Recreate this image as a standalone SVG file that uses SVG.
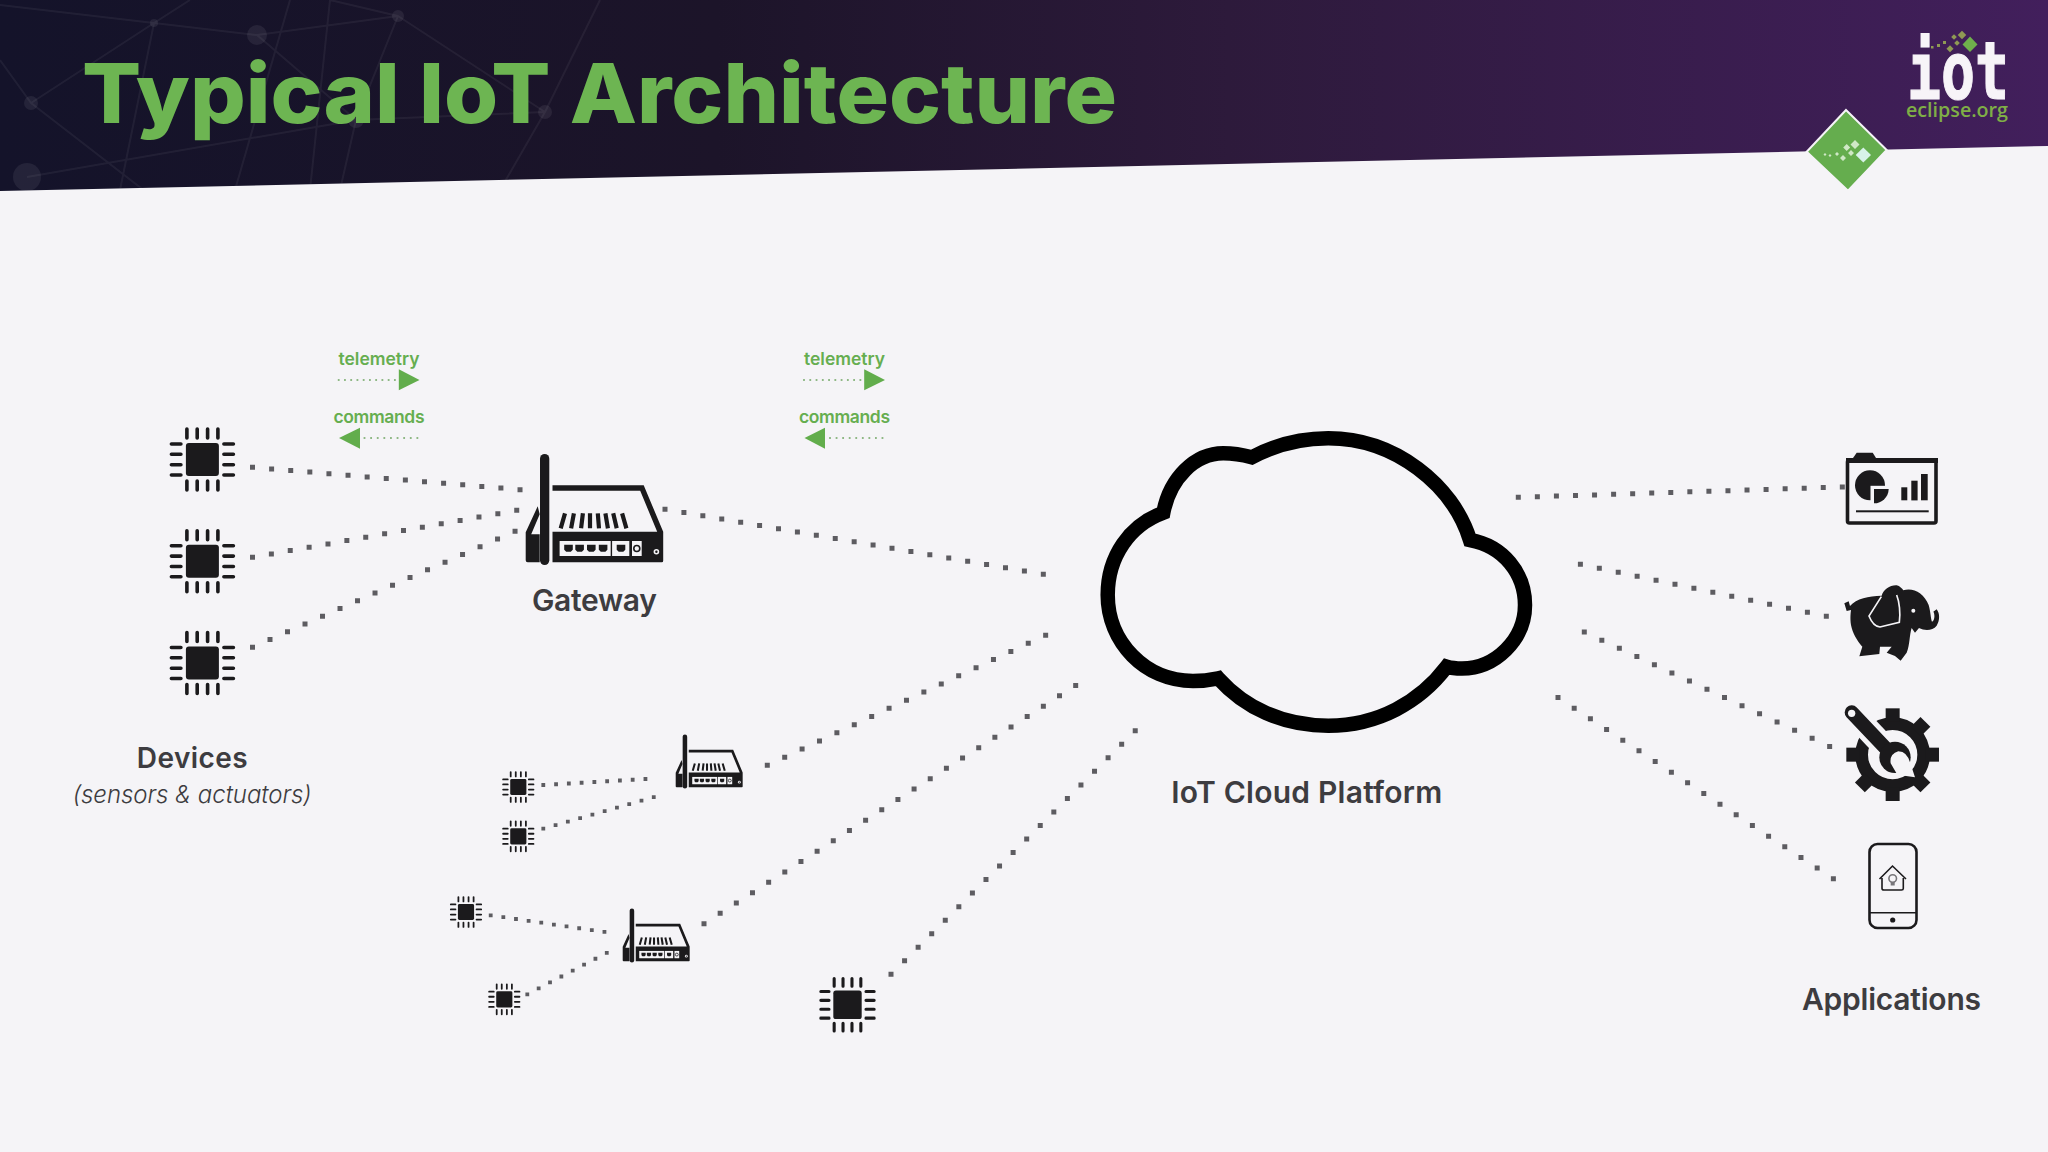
<svg xmlns="http://www.w3.org/2000/svg" width="2048" height="1152" viewBox="0 0 2048 1152">
<style>
.dot{fill:none;stroke:#5d5c61;stroke-width:5;stroke-dasharray:0 1;stroke-linecap:square}
.dots{stroke-width:3.8}
.gd{fill:none;stroke:#8fb885;stroke-width:1.8;stroke-dasharray:0 1;stroke-linecap:square}
.arrow{fill:#62ad4c}
.net{stroke:#fff;stroke-opacity:.055;stroke-width:2;fill:none}
.netn{fill:#fff;fill-opacity:.07}
.lbl{font-family:Inter,"Open Sans",sans-serif;font-weight:600;fill:#3d3c40}
.gl{font-family:Inter,"Open Sans",sans-serif;font-weight:600;fill:#66ae50;font-size:17.5px;text-anchor:middle}
.k{fill:#1b1a1c}
.bg{fill:#f5f4f7}
</style>
<defs>
<linearGradient id="ban" x1="0" x2="1" y1="0" y2="0">
<stop offset="0" stop-color="#14132a"/><stop offset=".35" stop-color="#1c1429"/><stop offset=".6" stop-color="#2d1a3b"/><stop offset="1" stop-color="#421f5c"/>
</linearGradient>
<g id="chip">
<rect class="k" x="-16.5" y="-16.5" width="33" height="33" rx="3"/>
<g stroke="#1b1a1c" stroke-width="3.6" stroke-linecap="round" fill="none">
<path d="M-15.5 -30.5V-21.5M-5.2 -30.5V-21.5M5.2 -30.5V-21.5M15.5 -30.5V-21.5"/>
<path d="M-15.5 21.5V30.5M-5.2 21.5V30.5M5.2 21.5V30.5M15.5 21.5V30.5"/>
<path d="M-31 -15.5H-21.5M-31 -5.2H-21.5M-31 5.2H-21.5M-31 15.5H-21.5"/>
<path d="M21.5 -15.5H31M21.5 -5.2H31M21.5 5.2H31M21.5 15.5H31"/>
</g>
</g>
<g id="router">
<path class="k" d="M26.8 -77H118L137.5 -30.6V-1.5Q137.5 0 136 0H26.8V-30.6H131.5L114.5 -71.5H26.8Z"/>
<path class="k" d="M12 -56L0 -30V-2Q0 0 2 0H14V-28H5.5L14 -48Z"/>
<rect class="k" x="14.3" y="-108.3" width="9.3" height="111" rx="4.65"/>
<g stroke="#1b1a1c" stroke-width="4.2" fill="none">
<path d="M35 -34L39.3 -49M45.4 -34L48.2 -49M55.4 -34L57.2 -49M64.3 -34V-49M73.3 -34L72.1 -49M82.2 -34L79.7 -49M91 -34L87.5 -49M100.7 -34L96.4 -49"/>
</g>
<rect class="bg" x="33.9" y="-21.3" width="51.1" height="15"/>
<rect class="bg" x="86.4" y="-21.3" width="17.2" height="15"/>
<rect class="bg" x="106.3" y="-21.3" width="9.7" height="15"/>
<path class="k" d="M38.5 -17.5h8.6v5l-2 2h-4.6l-2-2zM49.6 -17.5h8.6v5l-2 2h-4.6l-2-2zM61.3 -17.5h8.6v5l-2 2h-4.6l-2-2zM73.1 -17.5h8.6v5l-2 2h-4.6l-2-2zM91 -17.5h8.6v5l-2 2h-4.6l-2-2z"/>
<circle cx="111.1" cy="-13.8" r="3" fill="none" stroke="#1b1a1c" stroke-width="1.6"/>
<circle cx="130.7" cy="-10.6" r="2.8" class="bg"/>
<circle cx="130.7" cy="-10.6" r="1.2" class="k"/>
</g>
<clipPath id="bc"><polygon points="0,0 2048,0 2048,146 0,191"/></clipPath>
</defs>
<rect width="2048" height="1152" class="bg"/>
<g id="banner">
<polygon points="0,0 2048,0 2048,146 0,191" fill="url(#ban)"/>
<g clip-path="url(#bc)">
<path class="net" d="M0 5L154 23L257 35L398 16L330 0M154 23L31 103L0 60M257 35L356 120L545 112M398 16L356 120L27 177M31 103L150 195M398 16L545 112M190 0L154 23L120 190M545 112L600 0M545 112L500 190M290 0L235 190M330 0L310 190M356 120L340 190"/>
<circle class="netn" cx="257" cy="35" r="10"/><circle class="netn" cx="398" cy="16" r="6"/><circle class="netn" cx="31" cy="103" r="7"/><circle class="netn" cx="545" cy="112" r="7"/><circle class="netn" cx="27" cy="177" r="14"/><circle class="netn" cx="356" cy="120" r="8"/><circle class="netn" cx="154" cy="23" r="4"/>
</g>
<text x="82" y="122.5" font-family="Inter,'Open Sans',sans-serif" font-weight="800" font-size="83" fill="#6db552" textLength="1035" lengthAdjust="spacingAndGlyphs">Typical IoT Architecture</text>
</g>
<g id="logo">
<text x="1907" y="99" font-family="'DejaVu Sans Mono',monospace" font-weight="700" font-size="80" fill="#f7f4f8" stroke="#f7f4f8" stroke-width="1.2" textLength="102" lengthAdjust="spacingAndGlyphs">iot</text>
<text x="1906" y="117" font-family="'Open Sans',sans-serif" font-weight="600" font-size="20" fill="#7fae46" textLength="102" lengthAdjust="spacingAndGlyphs">eclipse.org</text>
<path d="M1970 36.5L1977.5 44.5L1970 52L1962.5 44.5Z" fill="#6fb04c"/>
<g fill="#8f9a54"><rect x="1959" y="32" width="6" height="6" transform="rotate(45 1962 35)"/><rect x="1952" y="35" width="4" height="4" transform="rotate(45 1954 37)"/><rect x="1955" y="41" width="4" height="4" transform="rotate(45 1957 43)"/><rect x="1948" y="46" width="5" height="5" transform="rotate(45 1950 48)"/><rect x="1943" y="41" width="3" height="3"/><rect x="1937" y="44" width="3" height="3"/><rect x="1931" y="46" width="2.5" height="2.5"/></g>
<path d="M1846 110L1886.7 150L1848 190.7L1806.7 151.7Z" fill="#65ad4e" stroke="#f5f4f7" stroke-width="2"/>
<path d="M1863.3 147.5L1871 155L1863.3 162.5L1855.7 155Z" fill="#d7f2e8"/>
<g fill="#cfe8c6"><path d="M1855 140l4.5 4.5-4.5 4.5-4.5-4.5zM1846.7 144l3.5 3.5-3.5 3.5-3.5-3.5zM1851 150l3 3-3 3-3-3zM1843 155l3 3-3 3-3-3zM1837 152l2 2-2 2-2-2zM1830 154l1.5 1.5-1.5 1.5-1.5-1.5zM1825 153l1.5 1.5-1.5 1.5-1.5-1.5z"/></g>
</g>
<g id="connectors">
<path class="dot" pathLength="14.02" d="M252.5 467.3L520.4 489.7"/>
<path class="dot" pathLength="14.02" d="M252.5 557.3L517.1 510.3"/>
<path class="dot" pathLength="15.02" d="M252.5 647.3L515.4 531"/>
<path class="dot" pathLength="20.02" d="M665 509.3L1043.7 574.3"/>
<path class="dot dots" pathLength="8.02" d="M543.3 785L645.7 779"/>
<path class="dot dots" pathLength="9.02" d="M543.3 828.7L654 797"/>
<path class="dot dots" pathLength="9.02" d="M490.7 915.3L604.7 932"/>
<path class="dot dots" pathLength="7.02" d="M527.3 994.3L607 952.7"/>
<path class="dot" pathLength="16.02" d="M767.3 765.3L1046 635"/>
<path class="dot" pathLength="23.02" d="M704 923.7L1076 685.3"/>
<path class="dot" pathLength="18.02" d="M891 974.3L1135.5 730.5"/>
<path class="dot" pathLength="17.02" d="M1518.3 497.3L1842.7 487"/>
<path class="dot" pathLength="13.02" d="M1580.4 564.2L1826.7 616.3"/>
<path class="dot" pathLength="14.02" d="M1584.3 632L1830 746.7"/>
<path class="dot" pathLength="17.02" d="M1558 697.5L1833.7 879"/>
</g>
<g id="flow-left">
<text class="gl" x="379" y="364.5" textLength="81">telemetry</text>
<path class="gd" pathLength="9.02" d="M338.7 380H395"/>
<polygon class="arrow" points="398.8,369.3 419.5,380 398.8,390.3"/>
<text class="gl" x="379" y="422.5" textLength="91">commands</text>
<polygon class="arrow" points="360,427.7 339,438 360,448.7"/>
<path class="gd" pathLength="8.02" d="M364.5 438H417.5"/>
</g>
<g id="flow-right">
<text class="gl" x="844.5" y="364.5" textLength="81">telemetry</text>
<path class="gd" pathLength="9.02" d="M804 380H860.5"/>
<polygon class="arrow" points="864.2,369.3 885,380 864.2,390.3"/>
<text class="gl" x="844.5" y="422.5" textLength="91">commands</text>
<polygon class="arrow" points="825,427.7 804.5,438 825,448.7"/>
<path class="gd" pathLength="8.02" d="M830 438H882.6"/>
</g>
<g id="device-1"><use href="#chip" x="202.4" y="459.5"/></g>
<g id="device-2"><use href="#chip" x="202.4" y="561.3"/></g>
<g id="device-3"><use href="#chip" x="202.4" y="663"/></g>
<g id="devices-label">
<text class="lbl" x="192.2" y="768.3" font-size="28" text-anchor="middle" textLength="111">Devices</text>
<text x="192.2" y="803.3" font-family="Inter,'Open Sans',sans-serif" font-style="italic" font-weight="300" font-size="24" fill="#3d3c40" text-anchor="middle" textLength="239">(sensors &amp; actuators)</text>
</g>
<g id="gateway"><use href="#router" transform="translate(525.7 562.3)"/>
<text class="lbl" x="594.4" y="611" font-size="30" text-anchor="middle" textLength="125">Gateway</text></g>
<g id="gateway-2"><use href="#router" transform="translate(675.7 787.3) scale(.487)"/></g>
<g id="gateway-3"><use href="#router" transform="translate(622.7 961.3) scale(.487)"/></g>
<g id="device-4"><use href="#chip" transform="translate(518.3 787) scale(.49)"/></g>
<g id="device-5"><use href="#chip" transform="translate(518.3 836.3) scale(.49)"/></g>
<g id="device-6"><use href="#chip" transform="translate(466 912) scale(.49)"/></g>
<g id="device-7"><use href="#chip" transform="translate(504.3 999.3) scale(.49)"/></g>
<g id="device-8"><use href="#chip" transform="translate(847.5 1004.8) scale(.86)"/></g>
<g id="cloud">
<path fill="none" stroke="#000" stroke-width="14.5" stroke-miterlimit="6" d="M1251.7 457.3C1275 445 1300 438.3 1328.3 438.3C1395 438.3 1453 485 1470 540C1503 546 1525 573 1525 605C1525 640 1495 668.5 1462 668.5C1456 668.5 1451 668 1446.7 666.7C1420 702 1378 725.7 1328.3 725.7C1283 725.7 1245 708 1218.3 678.3C1210 680 1202 681 1193 681C1145 681 1107.7 642 1107.7 595C1107.7 556 1130 525 1163.3 512.7C1170 478 1195 453.3 1223.3 453.3C1233 453.3 1243 455 1251.7 457.3Z"/>
<text class="lbl" x="1306.7" y="803" font-size="30" text-anchor="middle" textLength="271">IoT Cloud Platform</text>
</g>
<g id="app-dashboard">
<path class="k" d="M1853 458L1856.7 452.7H1872.7L1876 458Z"/>
<rect x="1847.5" y="460" width="88.5" height="63" rx="2" fill="none" stroke="#1b1a1c" stroke-width="3.6"/>
<rect class="k" x="1846" y="458" width="92" height="5"/>
<circle class="k" cx="1870" cy="485.3" r="15"/>
<path class="bg" d="M1870.5 485.8H1892V507H1870.5Z"/>
<path class="k" d="M1874 489H1888.7A14.7 14.7 0 0 1 1874 503.3Z"/>
<rect class="k" x="1901.3" y="487.3" width="6" height="13"/><rect class="k" x="1911.3" y="480.7" width="6.3" height="19.7"/><rect class="k" x="1921" y="474" width="6.7" height="26.3"/>
<rect class="k" x="1856" y="510.3" width="72.7" height="2"/>
</g>
<g id="app-hadoop" transform="translate(1800 430) scale(.3333)">
<path class="k" d="M133 520L146 514L150 528C170 505 205 498 245 497C250 478 270 465 290 466C300 468 306 476 310 481C340 472 372 490 386 525C392 545 392 565 396 575C406 570 404 550 400 545L410 538C420 550 420 572 410 587C398 602 375 603 357 594L345 608L335 594C328 615 330 645 320 668L302 692L285 678L260 668L275 650L240 650L238 672L178 679L187 650C170 630 158 610 153 585C150 565 152 548 153 540L140 543Z"/>
<path d="M244 500L207 558C215 578 225 590 240 591L298 577C302 550 298 515 290 495" fill="none" stroke="#f5f4f7" stroke-width="5"/>
<circle cx="340" cy="542" r="6" class="bg"/>
</g>
<g id="app-tools" transform="translate(1800 680) scale(.3333)">
<g class="k" transform="translate(278 224)">
<circle r="93" fill="none" stroke="#1b1a1c" stroke-width="38"/>
<rect x="-21" y="-139" width="42" height="40"/><rect x="-21" y="-139" width="42" height="40" transform="rotate(45)"/><rect x="-21" y="-139" width="42" height="40" transform="rotate(90)"/><rect x="-21" y="-139" width="42" height="40" transform="rotate(135)"/><rect x="-21" y="-139" width="42" height="40" transform="rotate(180)"/><rect x="-21" y="-139" width="42" height="40" transform="rotate(225)"/><rect x="-21" y="-139" width="42" height="40" transform="rotate(270)"/>
</g>
<path d="M155 97L262 210" stroke="#f5f4f7" stroke-width="72" fill="none"/>
<path d="M155 97L262 210" stroke="#1b1a1c" stroke-width="42" stroke-linecap="round" fill="none"/>
<circle cx="285" cy="232" r="47" class="k"/>
<path class="bg" d="M332 252Q322 214 295 214Q268 222 272 250L292 284L345 292Z"/>
<circle cx="155" cy="100" r="11" class="bg"/>
</g>
<g id="app-mobile">
<rect x="1869.5" y="844" width="47" height="84" rx="8" fill="none" stroke="#1b1a1c" stroke-width="2.6"/>
<path d="M1870 912.7H1916" stroke="#1b1a1c" stroke-width="1.6"/>
<circle class="k" cx="1892.7" cy="920" r="2.6"/>
<path d="M1879.5 879L1892.5 866L1906 879M1882 878V888.5Q1882 890 1884 890H1901.5Q1903.3 890 1903.3 888.5V878" fill="none" stroke="#1b1a1c" stroke-width="1.6"/>
<circle cx="1892.7" cy="878.5" r="3.8" fill="none" stroke="#77767a" stroke-width="1.6"/>
<rect x="1890.7" y="882" width="4" height="3.5" fill="#77767a"/>
</g>
<text id="applications-label" class="lbl" x="1891.5" y="1009.5" font-size="30" text-anchor="middle" textLength="179">Applications</text>
</svg>
